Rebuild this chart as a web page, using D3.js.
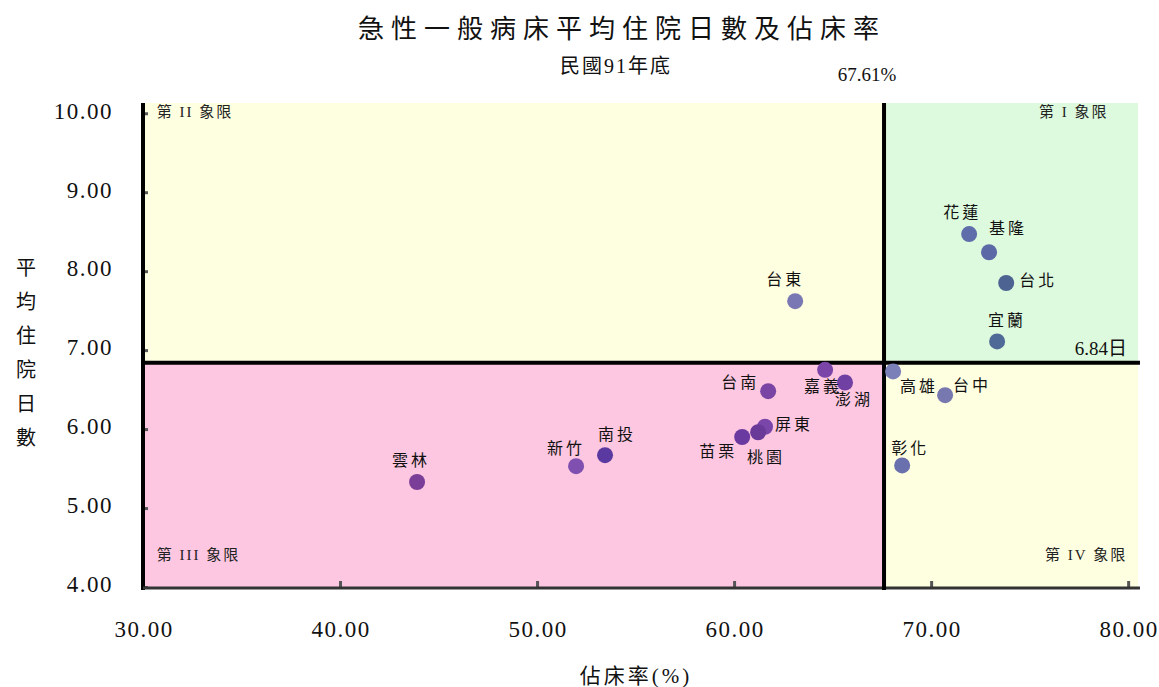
<!DOCTYPE html>
<html>
<head>
<meta charset="utf-8">
<script src="https://cdn.jsdelivr.net/npm/d3@7"></script>
<style>
  html, body { margin: 0; padding: 0; background: #ffffff; }
  svg { display: block; }
  text { font-family: "Liberation Serif", "Noto Sans CJK TC", serif; fill: #111; }
</style>
</head>
<body>
<script>
// Regions (county / city)
const regions = ["花蓮", "基隆", "台北", "宜蘭", "台東", "高雄", "台中", "嘉義", "澎湖",
                 "台南", "屏東", "桃園", "苗栗", "彰化", "雲林", "新竹", "南投"];
// Bed occupancy rate (%)
const occupancy = [71.93, 72.94, 73.81, 73.35, 63.10, 68.07, 70.71, 64.62, 65.63,
                   61.73, 61.57, 61.22, 60.41, 68.53, 43.91, 51.98, 53.45];
// Average length of stay (days)
const stayDays = [8.47, 8.24, 7.85, 7.11, 7.62, 6.73, 6.43, 6.75, 6.59,
                  6.48, 6.03, 5.96, 5.90, 5.54, 5.33, 5.53, 5.67];
// Nationwide averages that split the quadrants
const avgOccupancy = 67.61;
const avgStay = 6.84;
// Axis ticks
const xTicks = [30, 40, 50, 60, 70, 80];
const yTicks = [4, 5, 6, 7, 8, 9, 10];

// Marker colours per region
const dotColor = {
  "花蓮": "#5f6dab", "基隆": "#5b6aa6", "台北": "#4d6392", "宜蘭": "#506a97",
  "台東": "#7a78b4", "高雄": "#7b80b8", "台中": "#7778b0", "彰化": "#6a70ad",
  "嘉義": "#7a44a8", "澎湖": "#7041a2", "台南": "#7a44a4", "屏東": "#7a46aa",
  "桃園": "#693a98", "苗栗": "#6a3aa0", "雲林": "#7a3d98", "新竹": "#8050b0",
  "南投": "#5a3aa0"
};
// Label placement relative to each marker
const labelOffset = {
  "花蓮": [-7, -20], "基隆": [19, -22], "台北": [32, -1], "宜蘭": [10, -19],
  "台東": [-10, -20], "高雄": [26, 17], "台中": [27, -8], "嘉義": [-2, 18],
  "澎湖": [9, 19], "台南": [-28, -7], "屏東": [29, 0], "桃園": [8, 27],
  "苗栗": [-24, 16], "彰化": [8, -15], "雲林": [-6, -20], "新竹": [-10, -16],
  "南投": [12, -19]
};

const W = 1159, H = 687;
const svg = d3.select("body").append("svg").attr("width", W).attr("height", H);

const x = d3.scaleLinear().domain([30, 80.5]).range([143, 1138]);
const y = d3.scaleLinear().domain([4, 10.13]).range([587, 103]);

// Quadrant backgrounds
const quads = [
  { x0: 30, x1: avgOccupancy, y0: avgStay, y1: 10.13, fill: "#fefee0" },
  { x0: avgOccupancy, x1: 80.5, y0: avgStay, y1: 10.13, fill: "#defade" },
  { x0: 30, x1: avgOccupancy, y0: 4, y1: avgStay, fill: "#fdc7e1" },
  { x0: avgOccupancy, x1: 80.5, y0: 4, y1: avgStay, fill: "#fefee0" }
];
svg.append("g").selectAll("rect").data(quads).join("rect")
  .attr("x", d => x(d.x0))
  .attr("y", d => y(d.y1))
  .attr("width", d => x(d.x1) - x(d.x0))
  .attr("height", d => y(d.y0) - y(d.y1))
  .attr("fill", d => d.fill);

// Quadrant names
const qLabels = [
  { t: "第 II 象限", x: 30.7, y: 10.0, anchor: "start" },
  { t: "第 I 象限", x: 79.0, y: 10.0, anchor: "end" },
  { t: "第 III 象限", x: 30.7, y: 4.38, anchor: "start" },
  { t: "第 IV 象限", x: 79.95, y: 4.38, anchor: "end" }
];
svg.append("g").selectAll("text").data(qLabels).join("text")
  .attr("x", d => x(d.x)).attr("y", d => y(d.y))
  .attr("text-anchor", d => d.anchor)
  .attr("dominant-baseline", "middle")
  .attr("font-size", 15)
  .attr("letter-spacing", 2)
  .style("fill", "#222")
  .text(d => d.t);

// Y axis (left)
const yAxis = svg.append("g").attr("transform", `translate(${x(30)},0)`)
  .call(d3.axisRight(y).tickValues(yTicks).tickSize(5).tickFormat(""));
yAxis.select(".domain").remove();
yAxis.selectAll(".tick line").attr("stroke", "#555").attr("stroke-width", 3);
svg.append("line")
  .attr("x1", x(30)).attr("x2", x(30))
  .attr("y1", y(10.13)).attr("y2", y(4) + 3)
  .attr("stroke", "#000").attr("stroke-width", 4);
svg.append("g").selectAll("text").data(yTicks).join("text")
  .attr("x", 113).attr("y", d => y(d))
  .attr("text-anchor", "end").attr("dominant-baseline", "middle")
  .attr("font-size", 23)
  .attr("letter-spacing", 1.5)
  .text(d => d3.format(".2f")(d));

// X axis (bottom)
const xAxis = svg.append("g").attr("transform", `translate(0,${y(4)})`)
  .call(d3.axisTop(x).tickValues(xTicks.slice(1)).tickSize(6).tickFormat(""));
xAxis.select(".domain").remove();
xAxis.selectAll(".tick line").attr("stroke", "#555").attr("stroke-width", 3);
svg.append("line")
  .attr("x1", x(30)).attr("x2", x(80.6))
  .attr("y1", y(4) + 1).attr("y2", y(4) + 1)
  .attr("stroke", "#333").attr("stroke-width", 3);
svg.append("g").selectAll("text").data(xTicks).join("text")
  .attr("x", d => x(d) + 1).attr("y", 637)
  .attr("text-anchor", "middle")
  .attr("font-size", 23)
  .attr("letter-spacing", 1.5)
  .text(d => d3.format(".2f")(d));

// Average lines
svg.append("line")
  .attr("x1", x(avgOccupancy)).attr("x2", x(avgOccupancy))
  .attr("y1", y(10.13)).attr("y2", y(4) + 3)
  .attr("stroke", "#000").attr("stroke-width", 4);
svg.append("line")
  .attr("x1", x(30)).attr("x2", x(80.6))
  .attr("y1", y(avgStay)).attr("y2", y(avgStay))
  .attr("stroke", "#000").attr("stroke-width", 4);
svg.append("text")
  .attr("x", x(avgOccupancy) - 17).attr("y", 81)
  .attr("text-anchor", "middle").attr("font-size", 19)
  .text(d3.format(".2f")(avgOccupancy) + "%");
svg.append("text")
  .attr("x", 1127).attr("y", y(avgStay) - 8)
  .attr("text-anchor", "end").attr("font-size", 19)
  .text(d3.format(".2f")(avgStay) + "日");

// Region markers and labels
const pts = regions.map((r, i) => ({ r, ox: occupancy[i], st: stayDays[i] }));
svg.append("g").selectAll("circle").data(pts).join("circle")
  .attr("cx", d => x(d.ox)).attr("cy", d => y(d.st))
  .attr("r", 8)
  .attr("fill", d => dotColor[d.r]);
svg.append("g").selectAll("text").data(pts).join("text")
  .attr("x", d => x(d.ox) + labelOffset[d.r][0])
  .attr("y", d => y(d.st) + labelOffset[d.r][1])
  .attr("text-anchor", "middle").attr("dominant-baseline", "middle")
  .attr("font-size", 16)
  .attr("letter-spacing", 3)
  .text(d => d.r);

// Titles
svg.append("text").attr("x", 622).attr("y", 38)
  .attr("text-anchor", "middle").attr("font-size", 26)
  .attr("letter-spacing", 7)
  .text("急性一般病床平均住院日數及佔床率");
svg.append("text").attr("x", 616).attr("y", 73)
  .attr("text-anchor", "middle").attr("font-size", 20)
  .attr("letter-spacing", 2)
  .text("民國91年底");
svg.append("text").attr("x", 636).attr("y", 683)
  .attr("text-anchor", "middle").attr("font-size", 21)
  .attr("letter-spacing", 3)
  .text("佔床率(%)");
const yTitle = Array.from("平均住院日數");
svg.append("g").selectAll("text").data(yTitle).join("text")
  .attr("x", 26).attr("y", (d, i) => 270 + i * 34)
  .attr("text-anchor", "middle").attr("dominant-baseline", "middle")
  .attr("font-size", 20)
  .text(d => d);
</script>
</body>
</html>
